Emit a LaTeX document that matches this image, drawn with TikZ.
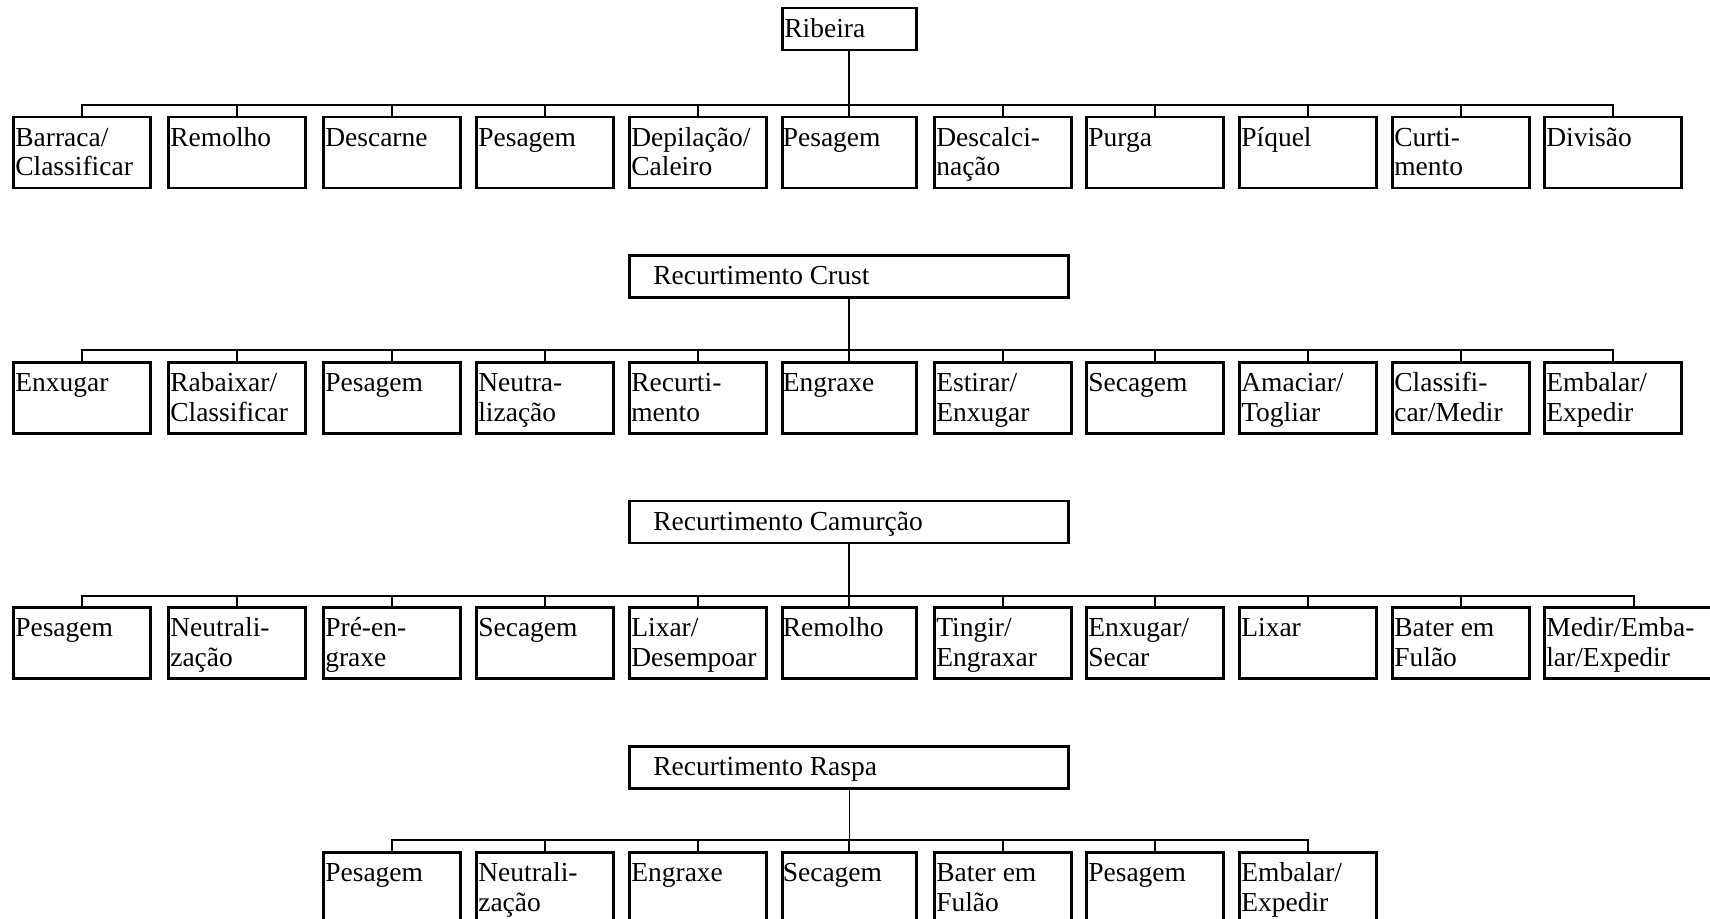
\documentclass[tikz,border=0pt]{standalone}
\usepackage{fontspec}
\setmainfont{Liberation Serif}
\newcommand\cellfont{\fontsize{27.5}{29.5}\selectfont}
\newcommand\ct[1]{\parbox[t][71pt][t]{133pt}{\rule{0pt}{29.5pt}#1}}
\newcommand\ctw[1]{\parbox[t][71pt][t]{176pt}{\rule{0pt}{29.5pt}#1}}
\newcommand\hd[2]{\parbox[t][42pt][t]{#1}{\rule{0pt}{29.5pt}#2}}
\tikzset{
  cell/.style={draw, line width=2.6pt, anchor=north west, inner sep=0pt,
    minimum width=137pt, minimum height=71pt, font=\cellfont},
  head/.style={draw, line width=2.6pt, anchor=north west, inner sep=0pt,
    minimum height=42pt, font=\cellfont},
  conn/.style={line width=2pt},
  thinconn/.style={line width=1.2pt}
}
\newcommand\cellnode[4]{\node[cell] (#1) at (#2,#3) {\ct{#4}};}
\begin{document}
\begin{tikzpicture}[x=1pt,y=-1pt]
\useasboundingbox (0,0) rectangle (1710,918);
\fill[white] (0,0) rectangle (1710,918);
% ---------- Row 1 ----------
\node[head, minimum width=134pt] (rib) at (781,6.5) {\hd{130pt}{Ribeira}};
\cellnode{a1}{12}{115.6}{Barraca/\\Classificar}
\cellnode{a2}{167}{115.6}{Remolho}
\cellnode{a3}{322}{115.6}{Descarne}
\cellnode{a4}{475}{115.6}{Pesagem}
\cellnode{a5}{628}{115.6}{Depilação/\\Caleiro}
\node[cell, minimum width=134pt] (a6) at (781,115.6) {\ct{Pesagem}};
\cellnode{a7}{933}{115.6}{Descalci-\\nação}
\cellnode{a8}{1085}{115.6}{Purga}
\cellnode{a9}{1238}{115.6}{Píquel}
\cellnode{a10}{1391}{115.6}{Curti-\\mento}
\cellnode{a11}{1543}{115.6}{Divisão}
\coordinate (busa) at (0,104.7);
\draw[conn] (a1.north) -- (a1.north |- busa) -- (a11.north |- busa) -- (a11.north);
\foreach \n in {a2,a3,a4,a5,a7,a8,a9,a10} \draw[conn] (\n.north) -- (\n.north |- busa);
\draw[conn] (rib.south) -- (a6.north);
% ---------- Row 2 ----------
\node[head, minimum width=439pt] (crust) at (628,254) {\hd{435pt}{\hspace*{22pt}Recurtimento Crust}};
\cellnode{b1}{12}{361}{Enxugar}
\cellnode{b2}{167}{361}{Rabaixar/\\Classificar}
\cellnode{b3}{322}{361}{Pesagem}
\cellnode{b4}{475}{361}{Neutra-\\lização}
\cellnode{b5}{628}{361}{Recurti-\\mento}
\node[cell, minimum width=134pt] (b6) at (781,361) {\ct{Engraxe}};
\cellnode{b7}{933}{361}{Estirar/\\Enxugar}
\cellnode{b8}{1085}{361}{Secagem}
\cellnode{b9}{1238}{361}{Amaciar/\\Togliar}
\cellnode{b10}{1391}{361}{Classifi-\\car/Medir}
\cellnode{b11}{1543}{361}{Embalar/\\Expedir}
\coordinate (busb) at (0,350);
\draw[conn] (b1.north) -- (b1.north |- busb) -- (b11.north |- busb) -- (b11.north);
\foreach \n in {b2,b3,b4,b5,b7,b8,b9,b10} \draw[conn] (\n.north) -- (\n.north |- busb);
\draw[conn] (crust.south -| b6.north) -- (b6.north);
% ---------- Row 3 ----------
\node[head, minimum width=439pt] (camu) at (628,499.5) {\hd{435pt}{\hspace*{22pt}Recurtimento Camurção}};
\cellnode{c1}{12}{606}{Pesagem}
\cellnode{c2}{167}{606}{Neutrali-\\zação}
\cellnode{c3}{322}{606}{Pré-en-\\graxe}
\cellnode{c4}{475}{606}{Secagem}
\cellnode{c5}{628}{606}{Lixar/\\Desempoar}
\node[cell, minimum width=134pt] (c6) at (781,606) {\ct{Remolho}};
\cellnode{c7}{933}{606}{Tingir/\\Engraxar}
\cellnode{c8}{1085}{606}{Enxugar/\\Secar}
\cellnode{c9}{1238}{606}{Lixar}
\cellnode{c10}{1391}{606}{Bater em\\Fulão}
\node[cell, minimum width=180pt] (c11) at (1543,606) {\ctw{Medir/Emba-\\lar/Expedir}};
\coordinate (busc) at (0,595.5);
\draw[conn] (c1.north) -- (c1.north |- busc) -- (c11.north |- busc) -- (c11.north);
\foreach \n in {c2,c3,c4,c5,c7,c8,c9,c10} \draw[conn] (\n.north) -- (\n.north |- busc);
\draw[conn] (camu.south -| c6.north) -- (c6.north);
% ---------- Row 4 ----------
\node[head, minimum width=439pt] (raspa) at (628,745) {\hd{435pt}{\hspace*{22pt}Recurtimento Raspa}};
\cellnode{d3}{322}{851}{Pesagem}
\cellnode{d4}{475}{851}{Neutrali-\\zação}
\cellnode{d5}{628}{851}{Engraxe}
\node[cell, minimum width=134pt] (d6) at (781,851) {\ct{Secagem}};
\cellnode{d7}{933}{851}{Bater em\\Fulão}
\cellnode{d8}{1085}{851}{Pesagem}
\cellnode{d9}{1238}{851}{Embalar/\\Expedir}
\coordinate (busd) at (0,840);
\draw[conn] (d3.north) -- (d3.north |- busd) -- (d9.north |- busd) -- (d9.north);
\foreach \n in {d4,d5,d7,d8} \draw[conn] (\n.north) -- (\n.north |- busd);
\draw[thinconn] (raspa.south -| d6.north) -- (d6.north |- busd);
\draw[conn] (d6.north |- busd) -- (d6.north);
\end{tikzpicture}
\end{document}
